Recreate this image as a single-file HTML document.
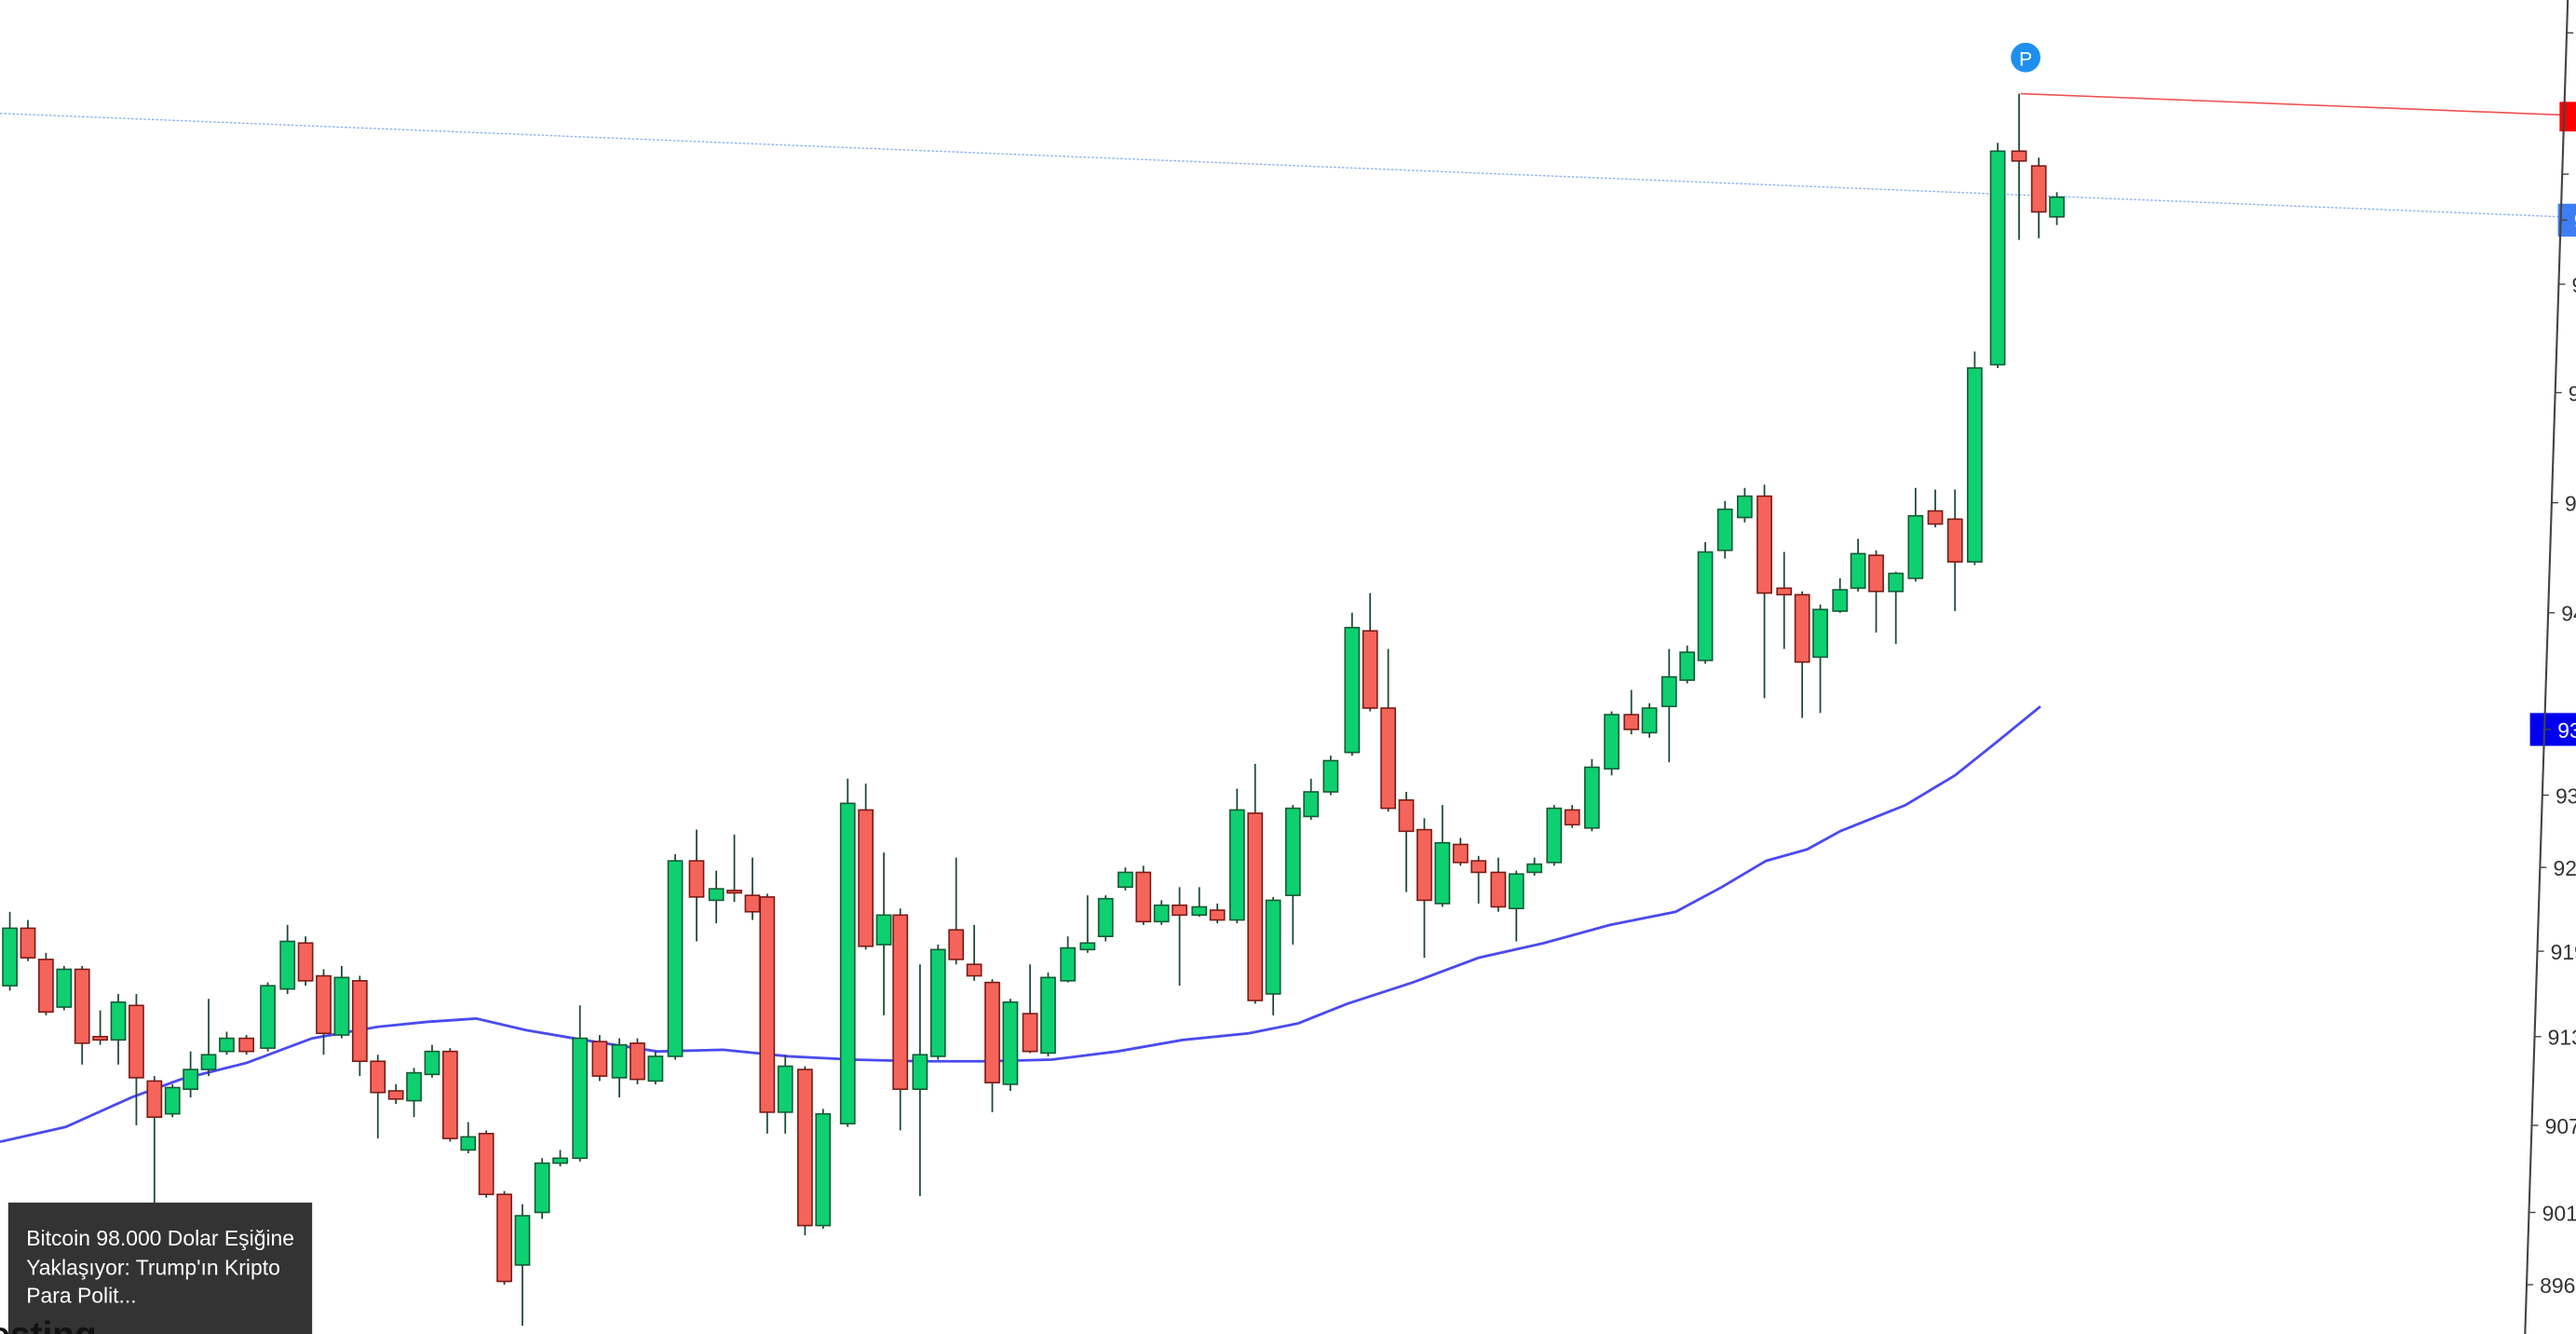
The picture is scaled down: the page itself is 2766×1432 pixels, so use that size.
<!DOCTYPE html>
<html><head><meta charset="utf-8"><style>
html,body{margin:0;padding:0;background:#fff;overflow:hidden}
svg{display:block}
text{font-family:"Liberation Sans",sans-serif}
</style></head><body>
<svg id="s" width="2766" height="1432" viewBox="0 0 1568 812" preserveAspectRatio="none" xmlns="http://www.w3.org/2000/svg">
<line x1="0" y1="69" x2="1560" y2="132" stroke="#8fb4f0" stroke-width="0.8" stroke-dasharray="1.5,1"/>
<line x1="1230" y1="57" x2="1560" y2="70" stroke="#f05050" stroke-width="0.9"/>
<polyline fill="none" stroke="#4a4af0" stroke-width="1.6" points="0,695 40,686 80,668 110,657 150,647 190,632 230,625 260,622 290,620 320,627 355,633 400,640 440,639 480,643 520,645 560,646 600,646 640,645 680,640 720,633 760,629 790,623 820,611 860,598 900,583 940,574 980,563 1020,555 1048,540 1075,524 1100,517 1120,506 1160,490 1190,472 1215,452 1242,430"/>
<g id="c"></g>
<circle cx="1233" cy="35" r="9" fill="#1e8ff0"/>
<text x="1233" y="40" font-size="12" fill="#fff" text-anchor="middle">P</text>
<rect x="1558" y="62" width="12" height="18" fill="#f00"/>
<rect x="1557" y="124" width="12" height="20" fill="#3d7ef5"/>
<rect x="1540" y="434" width="30" height="20" fill="#0000ee"/>
<line x1="1563" y1="0" x2="1537" y2="812" stroke="#444" stroke-width="1.2"/>
<g id="t" font-size="13" fill="#333"></g>
<rect x="5" y="732" width="185" height="80" fill="#333"/>
<g font-size="13" fill="#fff">
<text x="16" y="758">Bitcoin 98.000 Dolar Eşiğine</text>
<text x="16" y="776">Yaklaşıyor: Trump'ın Kripto</text>
<text x="16" y="793">Para Polit...</text>
</g>
<text x="-6" y="820" font-size="22" font-weight="bold" fill="#111">esting</text>
</svg>
<script>
var d=[[6,600,565,555,603],[17,565,583,560,585],[28,584,616,580,618],[39,613,590,588,615],[50,590,635,588,648],[61,631,633,615,636],[72,633,610,605,648],[83,612,656,605,685],[94,658,680,655,735],[105,678,662,660,680],[116,663,651,640,668],[127,651,642,608,655],[138,640,632,628,642],[150,632,640,630,642],[163,638,600,598,640],[175,602,573,563,605],[186,574,597,570,600],[197,594,629,590,642],[208,630,595,588,632],[219,597,646,594,655],[230,646,665,642,693],[241,664,669,660,672],[252,670,653,650,680],[263,654,640,636,656],[274,640,693,638,695],[285,700,692,683,702],[296,690,727,688,729],[307,727,780,725,782],[318,770,740,733,807],[330,738,708,705,742],[341,708,705,700,710],[353,705,632,612,707],[365,634,655,630,658],[377,656,636,632,668],[388,635,657,632,660],[399,658,643,640,660],[411,643,524,520,645],[424,524,546,505,573],[436,548,541,530,562],[447,542,543,508,549],[458,545,555,522,560],[467,546,677,544,690],[478,677,649,642,690],[490,651,746,649,752],[501,746,678,675,748],[516,684,489,474,686],[527,493,576,477,578],[538,575,557,519,618],[548,557,663,553,688],[560,663,642,587,728],[571,643,578,575,645],[582,566,584,522,587],[593,587,594,563,597],[604,598,659,596,677],[615,660,610,608,664],[627,617,640,587,641],[638,641,595,592,643],[650,597,577,570,598],[662,578,574,545,580],[673,570,547,545,573],[685,540,531,528,542],[696,531,561,527,563],[707,561,551,548,563],[718,551,557,540,600],[730,557,552,540,558],[741,554,560,550,562],[753,560,493,480,562],[764,495,609,465,611],[775,605,548,546,618],[787,545,492,490,575],[798,497,482,474,499],[810,482,463,460,484],[823,458,382,373,460],[834,384,431,361,433],[845,431,492,395,494],[856,487,506,482,543],[867,505,548,498,583],[878,550,513,490,552],[889,514,525,510,527],[900,524,531,521,550],[912,531,552,522,555],[923,553,532,530,573],[934,531,526,522,533],[946,525,492,490,527],[957,493,502,490,504],[969,504,467,462,506],[981,468,435,433,472],[993,435,444,420,447],[1004,446,431,428,449],[1016,430,412,395,464],[1027,414,397,393,416],[1038,402,336,330,404],[1050,335,310,305,340],[1062,315,302,297,318],[1074,302,361,295,425],[1086,358,362,336,395],[1097,362,403,360,437],[1108,400,371,368,434],[1120,372,359,352,373],[1131,358,337,328,360],[1142,338,360,335,385],[1154,360,349,348,392],[1166,352,314,297,354],[1178,311,319,298,321],[1190,316,342,298,372],[1202,342,224,214,344],[1216,222,92,87,224],[1229,92,98,57,146],[1241,101,129,96,145],[1252,132,120,117,137]];
var h='';
d.forEach(function(c){var x=c[0],o=c[1],cl=c[2],hi=c[3],lo=c[4];var up=cl<o;var t=Math.min(o,cl),b=Math.max(o,cl);if(b-t<1.5){b=t+1.5;}
h+='<line x1="'+x+'" y1="'+hi+'" x2="'+x+'" y2="'+lo+'" stroke="#1d4a34" stroke-width="1"/>';
h+='<rect x="'+(x-4.3)+'" y="'+t+'" width="8.6" height="'+(b-t)+'" fill="'+(up?'#0ed070':'#f5645a')+'" stroke="'+(up?'#135a35':'#7a1a15')+'" stroke-width="0.9"/>';});
document.getElementById('c').innerHTML=h;
var L=[[20,'',''],[106,'9',''],[134,'9','#fff'],[173,'9',''],[239,'9',''],[306,'9',''],[373,'94',''],[444,'93','#fff'],[484,'93',''],[528,'92',''],[579,'919',''],[631,'913',''],[685,'907',''],[738,'901',''],[782,'896','']];
var g='';
L.forEach(function(l){var ax=1563-26*l[0]/812;g+='<line x1="'+ax+'" y1="'+l[0]+'" x2="'+(ax+4)+'" y2="'+l[0]+'" stroke="#444" stroke-width="0.8"/>';
if(l[1])g+='<text x="'+(ax+8)+'" y="'+(l[0]+5)+'"'+(l[2]?' fill="'+l[2]+'"':'')+'>'+l[1]+'</text>';});
document.getElementById('t').innerHTML=g;
</script>
</body></html>
